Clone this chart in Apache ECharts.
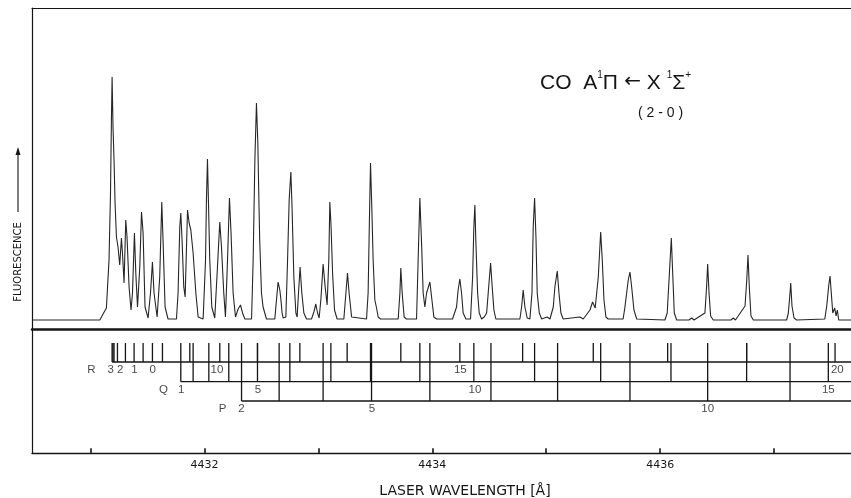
<!DOCTYPE html>
<html><head><meta charset="utf-8">
<script src="https://cdn.jsdelivr.net/npm/echarts@6/dist/echarts.min.js"></script>
<style>html,body{margin:0;padding:0;background:#fff}#c{width:851px;height:498px}</style>
</head><body><div id="c"></div>
<script>
// Fluorescence excitation spectrum: [wavelength (Å), intensity (arb.)]
const SPECTRUM = [
[4430.49,0],[4431.082,0],[4431.140,12],[4431.163,60],[4431.176,127],[4431.184,200],[4431.190,243],[4431.198,193],[4431.207,160],[4431.216,117],[4431.228,83],[4431.242,73],[4431.257,55],[4431.272,82],[4431.281,67],[4431.295,37],[4431.310,100],[4431.321,83],[4431.339,33],[4431.356,10],[4431.369,27],[4431.386,87],[4431.398,47],[4431.413,13],[4431.433,53],[4431.448,108],[4431.462,87],[4431.479,13],[4431.506,2],[4431.527,27],[4431.544,58],[4431.558,27],[4431.585,3],[4431.608,43],[4431.626,118],[4431.637,80],[4431.655,13],[4431.681,1],[4431.755,1],[4431.769,27],[4431.784,93],[4431.793,107],[4431.804,80],[4431.819,33],[4431.831,23],[4431.843,73],[4431.852,110],[4431.866,97],[4431.881,90],[4431.901,67],[4431.925,27],[4431.945,3],[4431.989,1],[4432.010,60],[4432.018,120],[4432.027,161],[4432.036,117],[4432.047,60],[4432.065,13],[4432.091,2],[4432.112,47],[4432.135,98],[4432.150,73],[4432.170,27],[4432.185,3],[4432.203,60],[4432.220,122],[4432.234,87],[4432.252,27],[4432.273,3],[4432.296,11],[4432.317,15],[4432.335,7],[4432.355,1],[4432.414,1],[4432.428,60],[4432.443,160],[4432.457,217],[4432.469,177],[4432.480,110],[4432.486,78],[4432.501,27],[4432.515,13],[4432.545,1],[4432.618,1],[4432.627,13],[4432.647,38],[4432.662,30],[4432.671,21],[4432.682,7],[4432.691,2],[4432.715,3],[4432.730,60],[4432.744,120],[4432.759,148],[4432.770,110],[4432.785,43],[4432.803,7],[4432.814,3],[4432.826,27],[4432.840,53],[4432.855,27],[4432.873,7],[4432.896,1],[4432.940,1],[4432.961,8],[4432.978,16],[4432.993,7],[4433.007,2],[4433.022,20],[4433.042,56],[4433.060,33],[4433.077,15],[4433.092,60],[4433.101,118],[4433.112,93],[4433.125,47],[4433.142,10],[4433.165,1],[4433.224,1],[4433.242,27],[4433.256,47],[4433.270,27],[4433.292,3],[4433.306,1],[4433.423,1],[4433.437,27],[4433.450,110],[4433.458,157],[4433.470,110],[4433.481,60],[4433.496,20],[4433.511,12],[4433.525,3],[4433.546,1],[4433.701,1],[4433.716,27],[4433.724,52],[4433.736,27],[4433.753,3],[4433.774,1],[4433.862,1],[4433.876,60],[4433.891,122],[4433.906,77],[4433.920,27],[4433.935,13],[4433.950,27],[4433.979,38],[4433.997,20],[4434.014,3],[4434.038,1],[4434.178,1],[4434.190,3],[4434.213,13],[4434.227,30],[4434.242,41],[4434.257,27],[4434.271,7],[4434.295,1],[4434.336,1],[4434.354,43],[4434.365,93],[4434.374,115],[4434.383,77],[4434.398,27],[4434.412,7],[4434.433,1],[4434.456,3],[4434.477,7],[4434.491,27],[4434.512,57],[4434.526,33],[4434.541,10],[4434.558,1],[4434.769,1],[4434.784,13],[4434.798,30],[4434.813,13],[4434.833,2],[4434.857,1],[4434.875,27],[4434.886,93],[4434.898,122],[4434.910,83],[4434.921,27],[4434.939,7],[4434.960,1],[4435.009,3],[4435.033,1],[4435.062,13],[4435.076,33],[4435.097,49],[4435.112,27],[4435.129,7],[4435.149,1],[4435.296,3],[4435.325,1],[4435.384,10],[4435.407,18],[4435.430,12],[4435.457,43],[4435.478,88],[4435.492,60],[4435.507,20],[4435.524,3],[4435.544,1],[4435.675,1],[4435.691,13],[4435.720,40],[4435.735,48],[4435.750,33],[4435.770,10],[4435.794,1],[4436.042,0],[4436.062,7],[4436.080,44],[4436.098,82],[4436.110,47],[4436.124,7],[4436.145,0],[4436.253,0],[4436.277,2],[4436.297,0],[4436.393,7],[4436.408,34],[4436.417,56],[4436.429,27],[4436.443,4],[4436.466,0],[4436.622,0],[4436.642,2],[4436.661,0],[4436.745,14],[4436.760,40],[4436.771,65],[4436.782,34],[4436.797,4],[4436.818,0],[4437.110,0],[4437.125,7],[4437.140,27],[4437.146,37],[4437.157,14],[4437.175,2],[4437.198,0],[4437.445,1],[4437.462,14],[4437.479,34],[4437.491,44],[4437.502,27],[4437.515,7],[4437.532,12],[4437.544,4],[4437.555,10],[4437.567,0],[4437.675,0]
];

// Line assignments (wavelengths, Å)
const R_LINES = [4431.190,4431.198,4431.207,4431.237,4431.307,4431.383,4431.462,4431.544,4431.632,4431.872,4432.135,4432.466,4432.838,4433.253,4433.724,4434.242,4434.793,4435.413,4436.066,4436.759,4437.535];
const Q_LINES = [4431.793,4431.901,4432.039,4432.214,4432.466,4432.750,4433.110,4433.458,4433.891,4434.365,4434.898,4435.478,4436.095,4436.759,4437.476];
const P_LINES = [4432.326,4432.656,4433.042,4433.467,4433.979,4434.515,4435.100,4435.735,4436.417,4437.140];

// Branch labels
const R_LABEL_TEXT = ['R','3','2','1','0','10','15','20'];
const R_LABEL_WL   = [4431.008,4431.178,4431.260,4431.386,4431.547,4432.110,4434.246,4437.555];
const Q_LABEL_TEXT = ['Q','1','5','10','15'];
const Q_LABEL_WL   = [4431.640,4431.796,4432.469,4434.374,4437.476];
const P_LABEL_TEXT = ['P','2','5','10'];
const P_LABEL_WL   = [4432.159,4432.326,4433.470,4436.417];

// Axis ticks
const TICK_VALUES = [4431,4432,4433,4434,4435,4436,4437];
const TICK_LABELS = [4432,4434,4436];

const X_MIN = 4430.487, X_MAX = 4437.675;
const LV = {top:110.3, R:91.3, Q:71.6, P:52.3, Rlab:83.3, Qlab:63.3, Plab:44.3};
const INK = '#151515';
const FONT = 'Liberation Sans, Arial, sans-serif';

function branchLines(lines, level) {
  return {
    type:'custom', coordinateSystem:'cartesian2d', xAxisIndex:2, yAxisIndex:1,
    data: lines.map(v => [v]), silent:true, clip:false,
    renderItem(params, api) {
      const a = api.coord([api.value(0), LV.top]);
      const b = api.coord([api.value(0), level]);
      return {type:'line', shape:{x1:a[0], y1:a[1], x2:b[0], y2:b[1]},
              style:{stroke:INK, lineWidth:1.3}};
    }
  };
}
function branchBase(lines, level) {
  return {type:'line', xAxisIndex:2, yAxisIndex:1, showSymbol:false, silent:true,
    data:[[Math.min(...lines), level],[X_MAX, level]],
    lineStyle:{color:INK, width:1.3}};
}
function branchLabels(texts, wls, level) {
  return {type:'scatter', xAxisIndex:2, yAxisIndex:1, symbolSize:0, silent:true,
    data: texts.map((t,i) => ({value:[wls[i], level], name:t})),
    label:{show:true, position:'inside', formatter:p => p.name, color:INK,
           fontFamily:FONT, fontSize:11.5, align:'center', verticalAlign:'middle'}};
}

const chart = echarts.init(document.getElementById('c'), null, {renderer:'canvas'});
chart.setOption({
  animation:false,
  backgroundColor:'#fff',
  grid:[
    {left:32, right:0, top:8, height:321.5},
    {left:32, right:0, top:330, height:123.3}
  ],
  xAxis:[
    {gridIndex:0, type:'value', min:X_MIN, max:X_MAX, position:'bottom',
     axisLine:{show:true, onZero:false, lineStyle:{color:INK, width:2.5}},
     axisTick:{show:false}, axisLabel:{show:false}, splitLine:{show:false}},
    {gridIndex:0, type:'value', min:X_MIN, max:X_MAX, position:'top',
     axisLine:{show:true, onZero:false, lineStyle:{color:INK, width:1.2}},
     axisTick:{show:false}, axisLabel:{show:false}, splitLine:{show:false}},
    {gridIndex:1, type:'value', min:X_MIN, max:X_MAX, position:'bottom',
     axisLine:{show:true, onZero:false, lineStyle:{color:INK, width:1.4}},
     axisTick:{show:true, inside:true, length:5, customValues:TICK_VALUES, lineStyle:{color:INK, width:1.6}},
     axisLabel:{show:true, customValues:TICK_LABELS, formatter:v => String(v), color:INK,
                fontFamily:'DejaVu Sans, sans-serif', fontSize:11, margin:6},
     splitLine:{show:false}}
  ],
  yAxis:[
    {gridIndex:0, type:'value', min:-9.5, max:312,
     axisLine:{show:true, onZero:false, lineStyle:{color:INK, width:1.2}},
     axisTick:{show:false}, axisLabel:{show:false}, splitLine:{show:false}},
    {gridIndex:1, type:'value', min:0, max:123.3,
     axisLine:{show:true, onZero:false, lineStyle:{color:INK, width:1.2}},
     axisTick:{show:false}, axisLabel:{show:false}, splitLine:{show:false}}
  ],
  series:[
    {type:'line', xAxisIndex:0, yAxisIndex:0, data:SPECTRUM, showSymbol:false, silent:true,
     lineStyle:{color:'#262626', width:1.1}},
    branchLines(R_LINES, LV.R), branchLines(Q_LINES, LV.Q), branchLines(P_LINES, LV.P),
    branchBase(R_LINES, LV.R), branchBase(Q_LINES, LV.Q), branchBase(P_LINES, LV.P),
    branchLabels(R_LABEL_TEXT, R_LABEL_WL, LV.Rlab),
    branchLabels(Q_LABEL_TEXT, Q_LABEL_WL, LV.Qlab),
    branchLabels(P_LABEL_TEXT, P_LABEL_WL, LV.Plab)
  ],
  graphic:[
    {type:'text', left:540, top:70, silent:true,
     style:{text:'{m|CO  A}{s|1}{m|Π}{a| ←}{m| X }{s|1}{m|Σ}{s|+}', fill:INK,
       rich:{
         m:{fontFamily:FONT, fontSize:21, lineHeight:24, verticalAlign:'bottom'},
         a:{fontFamily:'DejaVu Sans, sans-serif', fontSize:20, lineHeight:24, verticalAlign:'middle'},
         s:{fontFamily:FONT, fontSize:10, lineHeight:24, verticalAlign:'top'}
       }}},
    {type:'text', left:638, top:106, silent:true,
     style:{text:'( 2 - 0 )', fill:INK, fontFamily:FONT, fontSize:14}},
    {type:'text', x:18, y:262, rotation:Math.PI/2, silent:true,
     style:{text:'FLUORESCENCE', fill:INK, fontFamily:'DejaVu Sans, sans-serif', fontSize:10,
            align:'center', verticalAlign:'middle'}},
    {type:'line', silent:true, shape:{x1:18, y1:212, x2:18, y2:152},
     style:{stroke:INK, lineWidth:1.1}},
    {type:'polygon', silent:true, shape:{points:[[18,147],[15.5,155],[20.5,155]]},
     style:{fill:INK}},
    {type:'text', x:465, y:491, silent:true,
     style:{text:'LASER WAVELENGTH [Å]', fill:INK, fontFamily:'DejaVu Sans, sans-serif', fontSize:14,
            align:'center', verticalAlign:'middle'}}
  ]
});
</script></body></html>
